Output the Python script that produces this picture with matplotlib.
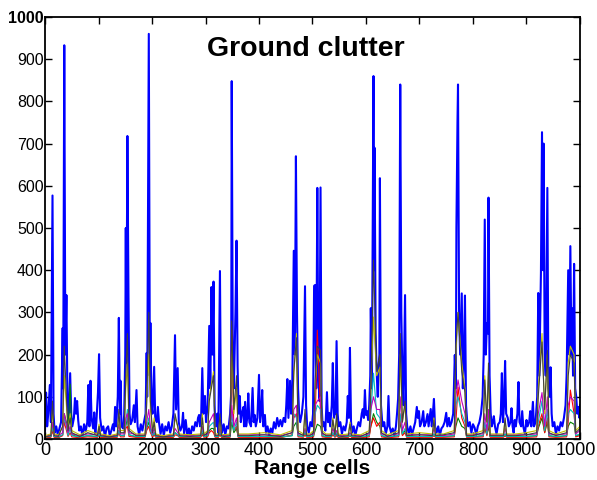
import numpy as np
import matplotlib
matplotlib.use('Agg')
import matplotlib.pyplot as plt
import matplotlib.transforms as mtransforms

plt.rcParams['font.family'] = ['Liberation Sans', 'DejaVu Sans']

# zero-doppler channel (blue) as (range cell, amplitude)
blue_pts = [
    (0, 20), (2, 110), (4, 30), (6, 60), (9, 128), (11, 40), (14, 577), (16, 60), (18, 15), (21, 30),
    (24, 8), (27, 25), (30, 40), (33, 263), (34, 120), (36, 933), (38, 200), (40, 341), (42, 80), (44, 40),
    (47, 156), (49, 60), (51, 30), (54, 50), (56, 97), (58, 60), (60, 90), (62, 45), (64, 20), (67, 30),
    (70, 6), (73, 35), (76, 18), (79, 40), (81, 128), (83, 30), (85, 138), (87, 50), (90, 25), (92, 63),
    (94, 12), (96, 40), (99, 110), (101, 201), (103, 50), (106, 20), (109, 30), (112, 5), (115, 25), (118, 30),
    (121, 8), (124, 20), (127, 35), (129, 20), (131, 76), (133, 30), (136, 100), (138, 287), (140, 60), (141, 138),
    (143, 30), (146, 25), (148, 57), (150, 200), (151, 500), (152, 180), (154, 718), (156, 340), (158, 60), (160, 35),
    (163, 45), (166, 80), (168, 40), (171, 116), (173, 30), (176, 10), (179, 35), (182, 20), (185, 40), (188, 60),
    (190, 204), (191, 100), (194, 960), (196, 150), (197, 275), (199, 80), (201, 60), (204, 171), (206, 50), (209, 40),
    (211, 76), (213, 40), (216, 12), (219, 35), (222, 8), (225, 30), (228, 20), (231, 40), (234, 15), (237, 30),
    (240, 60), (243, 246), (245, 70), (248, 168), (250, 40), (253, 20), (256, 30), (258, 62), (260, 12), (263, 45),
    (266, 8), (269, 25), (272, 6), (275, 30), (278, 20), (281, 40), (284, 30), (286, 50), (288, 57), (290, 30),
    (292, 60), (294, 168), (296, 60), (299, 102), (301, 40), (304, 80), (307, 268), (309, 120), (311, 360), (313, 200),
    (315, 373), (317, 80), (318, 45), (320, 30), (322, 60), (324, 15), (327, 398), (329, 40), (331, 15), (334, 35),
    (337, 10), (340, 30), (343, 25), (346, 60), (348, 109), (349, 848), (351, 200), (353, 120), (356, 300), (358, 470),
    (360, 172), (362, 60), (364, 102), (366, 40), (368, 60), (371, 76), (372, 30), (374, 88), (376, 30), (378, 50),
    (380, 108), (382, 40), (385, 30), (388, 121), (390, 40), (392, 57), (394, 30), (397, 50), (400, 152), (402, 40),
    (404, 60), (406, 116), (408, 30), (411, 57), (413, 15), (416, 30), (419, 8), (422, 25), (425, 15), (428, 40),
    (431, 25), (434, 50), (437, 30), (440, 45), (443, 30), (446, 50), (449, 40), (451, 80), (453, 142), (455, 50),
    (458, 138), (460, 60), (462, 100), (465, 446), (467, 200), (469, 670), (471, 300), (473, 120), (475, 60), (477, 40),
    (480, 60), (483, 100), (486, 362), (488, 80), (490, 30), (493, 15), (496, 40), (499, 30), (501, 60), (503, 363),
    (505, 365), (507, 120), (509, 595), (511, 150), (513, 90), (515, 596), (517, 80), (519, 30), (521, 40), (524, 20),
    (527, 111), (529, 40), (531, 62), (533, 30), (536, 80), (538, 180), (540, 50), (541, 57), (543, 60), (545, 232),
    (547, 60), (549, 30), (552, 40), (555, 12), (558, 30), (561, 20), (564, 40), (566, 102), (568, 50), (570, 216),
    (572, 40), (574, 15), (577, 30), (580, 8), (583, 25), (586, 40), (589, 30), (592, 60), (594, 71), (596, 50),
    (598, 116), (600, 57), (602, 66), (604, 45), (606, 80), (608, 150), (609, 310), (611, 120), (614, 860), (615, 400),
    (616, 690), (618, 250), (620, 156), (622, 100), (623, 161), (625, 200), (626, 618), (628, 80), (630, 45), (632, 30),
    (634, 40), (637, 12), (640, 30), (642, 102), (644, 30), (647, 15), (650, 25), (653, 8), (656, 30), (658, 60),
    (660, 95), (662, 200), (664, 840), (666, 300), (668, 150), (670, 80), (673, 341), (675, 60), (677, 30), (680, 12),
    (683, 30), (686, 10), (689, 25), (692, 40), (695, 76), (697, 50), (699, 66), (701, 30), (704, 40), (707, 66),
    (709, 30), (712, 40), (715, 59), (717, 30), (719, 50), (721, 71), (723, 30), (725, 60), (727, 95), (729, 30),
    (732, 15), (735, 30), (738, 8), (741, 25), (744, 30), (747, 40), (750, 62), (752, 30), (755, 50), (757, 30),
    (760, 40), (763, 60), (766, 199), (768, 120), (769, 500), (771, 750), (772, 840), (774, 300), (776, 200), (779, 345),
    (781, 120), (783, 180), (785, 340), (787, 80), (789, 45), (791, 30), (794, 40), (797, 15), (800, 35), (803, 27),
    (806, 10), (809, 30), (812, 40), (815, 60), (818, 100), (820, 200), (822, 520), (824, 200), (826, 275), (828, 250),
    (829, 572), (831, 150), (833, 62), (835, 30), (837, 40), (839, 54), (841, 30), (844, 12), (847, 35), (850, 40),
    (852, 60), (854, 156), (856, 40), (858, 80), (860, 185), (862, 60), (865, 50), (867, 30), (870, 40), (872, 73),
    (874, 30), (876, 15), (878, 45), (880, 30), (883, 60), (885, 135), (887, 40), (890, 30), (892, 66), (894, 30),
    (897, 12), (900, 45), (902, 30), (905, 40), (907, 66), (909, 30), (912, 88), (914, 30), (917, 40), (920, 100),
    (922, 346), (924, 150), (927, 393), (929, 727), (931, 400), (932, 700), (934, 200), (936, 150), (939, 595), (941, 120),
    (943, 100), (945, 170), (947, 60), (949, 30), (952, 40), (955, 12), (958, 30), (961, 20), (964, 40), (967, 30),
    (970, 50), (973, 80), (975, 150), (978, 400), (980, 200), (982, 457), (984, 200), (985, 310), (987, 150), (989, 415),
    (991, 120), (993, 100), (995, 60), (997, 76), (999, 50), (1000, 80),
]

# other doppler channels, sampled at the same range cells
sec_cells = [0, 11, 14, 17, 25, 33, 36, 40, 43, 47,
             50, 65, 80, 98, 101, 104, 120, 135, 138, 141,
             148, 151, 154, 157, 170, 187, 190, 194, 197, 201,
             204, 207, 220, 240, 243, 248, 251, 270, 291, 294,
             297, 304, 307, 311, 315, 318, 324, 327, 330, 335,
             346, 349, 353, 358, 361, 380, 410, 440, 462, 465,
             470, 473, 483, 486, 489, 495, 502, 505, 509, 515,
             518, 525, 535, 538, 542, 545, 548, 555, 567, 570,
             573, 590, 606, 609, 614, 620, 626, 629, 640, 661,
             664, 668, 673, 676, 700, 724, 727, 730, 745, 765,
             768, 772, 779, 785, 788, 800, 819, 822, 826, 829,
             832, 840, 857, 860, 863, 880, 900, 919, 922, 929,
             934, 939, 942, 955, 975, 978, 982, 989, 992, 1000]
green_vals = [4, 6, 25, 6, 4, 10, 60, 40, 15, 130,
              10, 4, 8, 5, 15, 5, 4, 6, 20, 8,
              8, 30, 50, 10, 5, 6, 25, 40, 20, 8,
              15, 5, 4, 5, 15, 10, 5, 4, 5, 15,
              6, 8, 20, 25, 25, 6, 5, 15, 5, 4,
              6, 40, 15, 25, 6, 5, 6, 4, 8, 30,
              40, 8, 6, 15, 6, 5, 8, 20, 35, 30,
              8, 5, 6, 15, 6, 12, 5, 4, 5, 10,
              5, 4, 8, 30, 60, 40, 30, 8, 4, 8,
              40, 10, 20, 6, 5, 6, 12, 5, 5, 8,
              30, 50, 30, 25, 6, 5, 8, 25, 10, 30,
              6, 5, 6, 12, 5, 5, 6, 8, 25, 50,
              15, 40, 8, 5, 8, 30, 40, 35, 8, 10]
red_vals = [3, 4, 20, 4, 3, 8, 40, 20, 6, 15,
            5, 3, 5, 4, 10, 4, 3, 4, 15, 5,
            5, 25, 30, 6, 4, 4, 20, 30, 15, 5,
            10, 4, 3, 4, 10, 8, 4, 3, 4, 10,
            4, 5, 15, 20, 15, 4, 4, 10, 4, 3,
            4, 258, 20, 30, 4, 4, 4, 3, 10, 50,
            60, 5, 4, 10, 4, 4, 5, 40, 258, 60,
            5, 4, 4, 10, 4, 8, 4, 3, 4, 8,
            4, 3, 5, 30, 50, 30, 40, 5, 3, 5,
            50, 8, 15, 4, 4, 4, 8, 4, 4, 5,
            40, 123, 50, 30, 4, 4, 5, 30, 8, 40,
            4, 4, 4, 8, 4, 4, 4, 5, 30, 60,
            15, 50, 5, 4, 5, 40, 116, 60, 5, 8]
cyan_vals = [5, 6, 30, 6, 5, 10, 50, 30, 8, 25,
             8, 5, 8, 6, 12, 6, 5, 6, 20, 8,
             8, 40, 70, 10, 6, 6, 30, 50, 20, 8,
             15, 6, 5, 6, 15, 10, 6, 5, 6, 20,
             6, 8, 30, 35, 40, 6, 6, 20, 6, 5,
             6, 60, 20, 40, 6, 6, 6, 5, 8, 60,
             50, 8, 6, 20, 6, 6, 8, 60, 80, 70,
             8, 6, 6, 15, 6, 15, 6, 5, 6, 10,
             6, 5, 8, 60, 156, 60, 50, 8, 5, 8,
             60, 12, 25, 6, 6, 6, 12, 6, 6, 8,
             80, 100, 60, 40, 6, 6, 8, 40, 12, 50,
             6, 6, 6, 12, 6, 6, 6, 8, 40, 90,
             20, 70, 8, 6, 8, 60, 70, 60, 8, 12]
magenta_vals = [6, 10, 40, 10, 8, 15, 60, 35, 15, 30,
                12, 8, 12, 10, 20, 10, 6, 10, 35, 12,
                12, 50, 60, 15, 10, 10, 40, 70, 30, 12,
                25, 10, 6, 10, 25, 15, 10, 8, 10, 30,
                10, 12, 40, 50, 60, 10, 10, 25, 10, 8,
                10, 80, 30, 50, 10, 10, 10, 8, 15, 70,
                80, 12, 10, 25, 10, 10, 12, 80, 90, 100,
                12, 10, 10, 25, 10, 20, 10, 8, 10, 15,
                10, 8, 12, 70, 100, 70, 70, 12, 8, 12,
                100, 20, 40, 10, 10, 10, 25, 10, 8, 12,
                100, 140, 90, 60, 10, 10, 12, 60, 20, 70,
                10, 10, 10, 25, 10, 10, 10, 12, 60, 110,
                30, 100, 12, 10, 12, 80, 100, 90, 12, 20]
yellow_vals = [8, 12, 70, 12, 10, 30, 150, 80, 25, 60,
               20, 10, 20, 12, 35, 12, 8, 12, 60, 20,
               20, 120, 180, 25, 12, 12, 90, 200, 70, 20,
               50, 12, 8, 12, 50, 30, 12, 10, 12, 60,
               12, 20, 100, 130, 160, 12, 12, 50, 12, 10,
               12, 220, 60, 120, 12, 12, 15, 10, 20, 150,
               250, 20, 12, 60, 12, 12, 20, 130, 200, 180,
               20, 12, 12, 50, 15, 45, 12, 10, 12, 40,
               12, 10, 20, 120, 289, 150, 170, 20, 10, 20,
               200, 40, 80, 12, 15, 12, 50, 12, 12, 20,
               200, 300, 180, 120, 12, 12, 20, 150, 40, 160,
               12, 12, 12, 45, 12, 12, 15, 20, 120, 250,
               60, 200, 20, 12, 20, 180, 220, 200, 20, 30]
gray_vals = [5, 8, 90, 8, 6, 30, 220, 100, 20, 50,
             15, 6, 15, 8, 30, 8, 5, 8, 70, 15,
             15, 150, 250, 20, 8, 8, 80, 300, 90, 15,
             40, 8, 5, 8, 60, 30, 8, 6, 8, 50,
             8, 15, 90, 120, 150, 8, 8, 60, 8, 6,
             8, 280, 70, 150, 8, 8, 10, 6, 15, 160,
             240, 15, 8, 70, 8, 8, 15, 140, 220, 210,
             15, 8, 8, 45, 10, 60, 8, 6, 8, 35,
             8, 6, 15, 110, 424, 160, 200, 15, 6, 15,
             250, 40, 90, 8, 10, 8, 45, 8, 10, 15,
             220, 300, 160, 110, 8, 8, 15, 140, 40, 180,
             8, 8, 8, 50, 8, 8, 10, 15, 100, 230,
             70, 210, 15, 8, 15, 150, 200, 180, 15, 25]

x_ticks = [0, 100, 200, 300, 400, 500, 600, 700, 800, 900, 1000]
y_ticks = [0, 100, 200, 300, 400, 500, 600, 700, 800, 900, 1000]

fig = plt.figure(figsize=(5.97, 4.8), dpi=100)
ax = fig.add_axes([0.0754, 0.0854, 0.8961, 0.8792])

bx = [p[0] for p in blue_pts]
by = [p[1] for p in blue_pts]
ax.plot(bx, by, color=(0, 0, 1), lw=1.5)

# old matlab colour order
others = [(green_vals, (0, 0.5, 0)), (red_vals, (1, 0, 0)), (cyan_vals, (0, 0.75, 0.75)),
          (magenta_vals, (0.75, 0, 0.75)), (yellow_vals, (0.75, 0.75, 0)), (gray_vals, (0.25, 0.25, 0.25))]
for vals, col in others:
    ax.plot(sec_cells, vals, color=col, lw=0.8)

ax.set_xlim(0, 1000)
ax.set_ylim(0, 1000)
ax.set_xticks(x_ticks)
ax.set_yticks(y_ticks)
ax.tick_params(direction='in', length=5, width=1, top=True, right=True)
ax.tick_params(axis='x', labelsize=13, pad=2)
ax.tick_params(axis='y', labelsize=11.5, pad=1)
ax.get_yticklabels()[-1].set_fontweight('bold')
# nudge the last x label so it stays inside the canvas
last = ax.get_xticklabels()[-1]
last.set_transform(last.get_transform() + mtransforms.ScaledTranslation(-3 / 72, 0, fig.dpi_scale_trans))
for s in ax.spines.values():
    s.set_linewidth(1.3)

ax.text(0.488, 0.925, 'Ground clutter', transform=ax.transAxes, ha='center', va='center',
        fontsize=20.5, fontweight='bold')
ax.set_xlabel('Range cells', fontsize=15, fontweight='bold', labelpad=0)

fig.savefig('out.png', dpi=100)
